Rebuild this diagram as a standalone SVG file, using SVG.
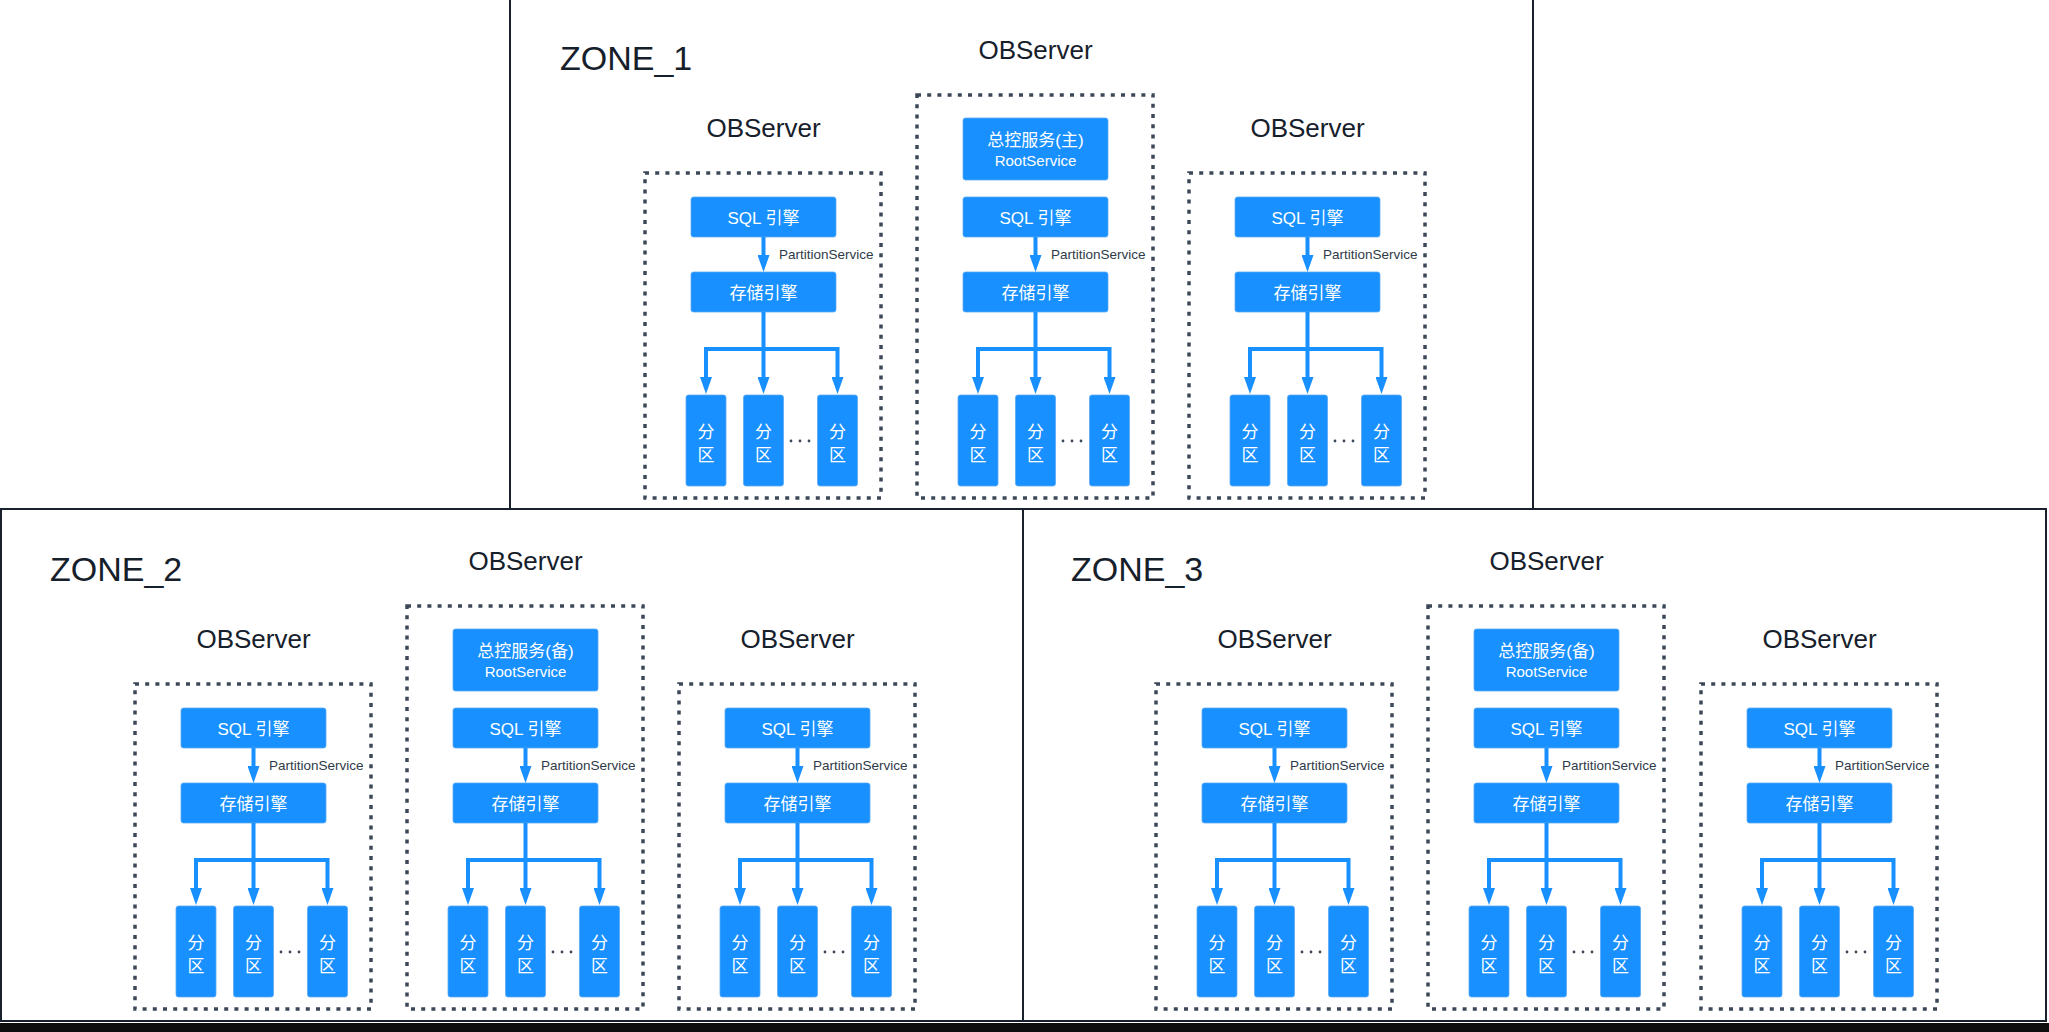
<svg xmlns="http://www.w3.org/2000/svg" xmlns:xlink="http://www.w3.org/1999/xlink" width="2049" height="1032" viewBox="0 0 2049 1032">
<style>
.zone{fill:none;stroke:#18212c;stroke-width:2}
.zt{font-family:"Liberation Sans","Noto Sans CJK SC",sans-serif;font-size:34px;fill:#16202b}
.obl{font-family:"Liberation Sans","Noto Sans CJK SC",sans-serif;font-size:26px;fill:#16202b;text-anchor:middle}
.srv{fill:none;stroke:#3c4858;stroke-width:3.5;stroke-dasharray:4 6.2}
.box{fill:#1890ff;stroke:#5aa9f5;stroke-width:0.8}
.bt{font-family:"Liberation Sans","Noto Sans CJK SC",sans-serif;font-size:17px;fill:#ffffff;text-anchor:middle}
.rs{font-family:"Liberation Sans","Noto Sans CJK SC",sans-serif;font-size:15px;fill:#ffffff;text-anchor:middle}
.ps{font-family:"Liberation Sans","Noto Sans CJK SC",sans-serif;font-size:13.5px;fill:#2f3a48}
.dot{fill:#3c4858}
.cn{fill:none;stroke:#1890ff;stroke-width:4;stroke-linejoin:miter;marker-end:url(#arr)}
</style>
<defs>
<marker id="arr" markerUnits="userSpaceOnUse" markerWidth="17" markerHeight="12" refX="2" refY="6" orient="auto">
<path d="M0,0 L17,6 L0,12 z" fill="#1890ff"/>
</marker>
<g id="srvBody">
<rect class="box" x="46" y="197" width="145" height="40" rx="2.5"/>
<text class="bt" x="118.5" y="223.5">SQL 引擎</text>
<text class="ps" x="134" y="259">PartitionService</text>
<rect class="box" x="46" y="272" width="145" height="40" rx="2.5"/>
<text class="bt" x="118.5" y="298.5">存储引擎</text>
<rect class="box" x="41" y="395" width="40" height="91" rx="2.5"/>
<text class="bt" x="61" y="438">分</text>
<text class="bt" x="61" y="460.5">区</text>
<rect class="box" x="98.5" y="395" width="40" height="91" rx="2.5"/>
<text class="bt" x="118.5" y="438">分</text>
<text class="bt" x="118.5" y="460.5">区</text>
<rect class="box" x="172.5" y="395" width="40" height="91" rx="2.5"/>
<text class="bt" x="192.5" y="438">分</text>
<text class="bt" x="192.5" y="460.5">区</text>
<circle class="dot" cx="146" cy="441" r="1.4"/>
<circle class="dot" cx="155" cy="441" r="1.4"/>
<circle class="dot" cx="164" cy="441" r="1.4"/>
</g>
<g id="srvLinks">
<path class="cn" d="M118.5,237 V257"/>
<path class="cn" d="M118.5,312 V379"/>
<path class="cn" d="M118.5,349 H61 V379"/>
<path class="cn" d="M118.5,349 H192.5 V379"/>
</g>
</defs>

<g id="zones">
<rect class="zone" x="510" y="-2" width="1023" height="511"/>
<rect class="zone" x="1" y="509" width="1022" height="512"/>
<rect class="zone" x="1023" y="509" width="1023" height="512"/>
<rect x="0" y="1023" width="2049" height="9" fill="#0e0e0e"/>
<text class="zt" x="560" y="70">ZONE_1</text>
<text class="zt" x="50" y="581">ZONE_2</text>
<text class="zt" x="1071" y="581">ZONE_3</text>
</g>

<!-- ZONE_1 -->
<g id="z1-obs1" transform="translate(645,0)">
<text class="obl" x="118.5" y="137">OBServer</text>
<rect class="srv" x="0" y="173" width="236" height="325"/>
<use xlink:href="#srvBody"/>
</g>
<g id="z1-obs2" transform="translate(917,0)">
<text class="obl" x="118.5" y="59">OBServer</text>
<rect class="srv" x="0" y="95" width="236" height="403"/>
<rect class="box" x="46" y="118" width="145" height="62" rx="2.5"/>
<text class="bt" x="118.5" y="146">总控服务(主)</text>
<text class="rs" x="118.5" y="166">RootService</text>
<use xlink:href="#srvBody"/>
</g>
<g id="z1-obs3" transform="translate(1189,0)">
<text class="obl" x="118.5" y="137">OBServer</text>
<rect class="srv" x="0" y="173" width="236" height="325"/>
<use xlink:href="#srvBody"/>
</g>

<!-- ZONE_2 -->
<g id="z2-obs1" transform="translate(135,511)">
<text class="obl" x="118.5" y="137">OBServer</text>
<rect class="srv" x="0" y="173" width="236" height="325"/>
<use xlink:href="#srvBody"/>
</g>
<g id="z2-obs2" transform="translate(407,511)">
<text class="obl" x="118.5" y="59">OBServer</text>
<rect class="srv" x="0" y="95" width="236" height="403"/>
<rect class="box" x="46" y="118" width="145" height="62" rx="2.5"/>
<text class="bt" x="118.5" y="146">总控服务(备)</text>
<text class="rs" x="118.5" y="166">RootService</text>
<use xlink:href="#srvBody"/>
</g>
<g id="z2-obs3" transform="translate(679,511)">
<text class="obl" x="118.5" y="137">OBServer</text>
<rect class="srv" x="0" y="173" width="236" height="325"/>
<use xlink:href="#srvBody"/>
</g>

<!-- ZONE_3 -->
<g id="z3-obs1" transform="translate(1156,511)">
<text class="obl" x="118.5" y="137">OBServer</text>
<rect class="srv" x="0" y="173" width="236" height="325"/>
<use xlink:href="#srvBody"/>
</g>
<g id="z3-obs2" transform="translate(1428,511)">
<text class="obl" x="118.5" y="59">OBServer</text>
<rect class="srv" x="0" y="95" width="236" height="403"/>
<rect class="box" x="46" y="118" width="145" height="62" rx="2.5"/>
<text class="bt" x="118.5" y="146">总控服务(备)</text>
<text class="rs" x="118.5" y="166">RootService</text>
<use xlink:href="#srvBody"/>
</g>
<g id="z3-obs3" transform="translate(1701,511)">
<text class="obl" x="118.5" y="137">OBServer</text>
<rect class="srv" x="0" y="173" width="236" height="325"/>
<use xlink:href="#srvBody"/>
</g>

<g id="connectors">
<use xlink:href="#srvLinks" transform="translate(645,0)"/>
<use xlink:href="#srvLinks" transform="translate(917,0)"/>
<use xlink:href="#srvLinks" transform="translate(1189,0)"/>
<use xlink:href="#srvLinks" transform="translate(135,511)"/>
<use xlink:href="#srvLinks" transform="translate(407,511)"/>
<use xlink:href="#srvLinks" transform="translate(679,511)"/>
<use xlink:href="#srvLinks" transform="translate(1156,511)"/>
<use xlink:href="#srvLinks" transform="translate(1428,511)"/>
<use xlink:href="#srvLinks" transform="translate(1701,511)"/>
</g>
</svg>
